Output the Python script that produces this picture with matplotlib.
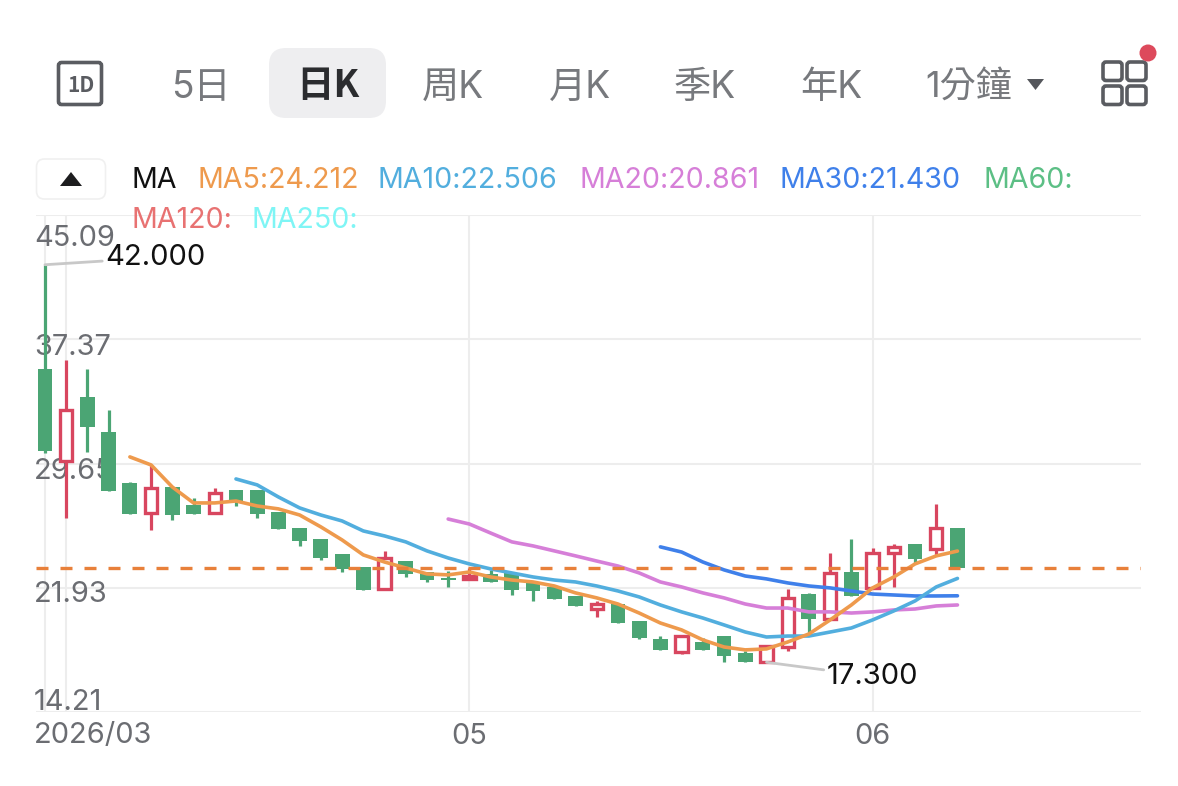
import matplotlib
matplotlib.use('Agg')
import matplotlib.pyplot as plt
from matplotlib.patches import Rectangle, FancyBboxPatch, Polygon, Circle

plt.rcParams['font.family'] = ['Inter', 'Noto Sans CJK TC', 'DejaVu Sans']

# daily candles
opens = [35.52, 29.81, 33.78, 31.61, 28.44, 26.58, 28.19, 27.07, 26.58, 28.00, 28.00,
         26.64, 25.64, 24.96, 24.03, 23.22, 21.85, 23.59, 22.91, 22.51, 22.45, 22.79,
         22.85, 22.23, 21.98, 21.42, 20.61, 20.92, 19.87, 18.75, 17.94, 18.56, 18.93,
         17.88, 17.30, 18.25, 21.54, 20.00, 22.91, 21.92, 24.09, 24.65, 24.34, 25.64]
highs = [42.00, 36.08, 35.52, 32.98, 28.50, 29.56, 28.19, 27.51, 28.13, 28.00, 28.00,
         26.64, 25.64, 24.96, 24.03, 23.22, 24.22, 23.59, 22.91, 22.97, 23.16, 23.04,
         22.85, 22.23, 21.98, 21.42, 21.11, 20.92, 19.87, 18.93, 18.93, 18.81, 18.93,
         18.00, 18.31, 21.85, 21.61, 24.09, 24.96, 24.40, 24.65, 24.65, 27.14, 25.64]
lows = [30.30, 26.27, 30.37, 27.94, 26.51, 25.52, 26.14, 26.51, 26.58, 27.01, 26.27,
        25.58, 24.53, 23.66, 22.91, 21.79, 21.85, 22.60, 22.29, 21.98, 22.45, 22.29,
        21.48, 21.11, 21.23, 20.80, 20.12, 19.74, 18.75, 18.07, 17.82, 18.07, 17.32,
        17.31, 17.30, 18.00, 19.06, 20.00, 21.42, 21.92, 21.98, 23.47, 23.91, 23.15]
closes = [30.43, 32.98, 31.92, 27.94, 26.51, 28.13, 26.45, 26.51, 27.82, 27.32, 26.51,
          25.58, 24.84, 23.78, 23.10, 21.79, 23.78, 22.79, 22.41, 22.41, 22.66, 22.29,
          21.79, 21.73, 21.23, 20.80, 20.92, 19.74, 18.81, 18.07, 18.93, 18.07, 17.69,
          17.31, 18.31, 21.30, 20.00, 22.85, 21.42, 24.09, 24.47, 23.72, 25.64, 23.15]

# moving averages, each one starts once it has enough bars
ma5 = [30.06, 29.56, 28.19, 27.20, 27.20, 27.32, 27.01, 26.83, 26.45, 25.71, 24.90,
       23.97, 23.53, 23.16, 22.79, 22.73, 22.91, 22.60, 22.41, 22.29, 22.04, 21.61,
       21.30, 20.92, 20.36, 19.74, 19.31, 18.69, 18.25, 18.07, 18.13, 18.56, 19.06,
       19.93, 20.86, 21.92, 22.60, 23.41, 23.91, 24.21]
ma10 = [28.69, 28.32, 27.57, 26.89, 26.45, 26.08, 25.46, 25.15, 24.78, 24.22, 23.78,
        23.41, 23.10, 22.85, 22.60, 22.41, 22.29, 22.04, 21.73, 21.36, 20.86, 20.43,
        20.05, 19.62, 19.18, 18.87, 18.93, 18.93, 19.18, 19.43, 19.93, 20.49, 21.11,
        21.98, 22.51]
ma20 = [26.20, 25.89, 25.33, 24.78, 24.53, 24.22, 23.91, 23.59, 23.28, 22.85, 22.29,
        21.98, 21.61, 21.30, 20.92, 20.67, 20.67, 20.43, 20.43, 20.36, 20.43, 20.55,
        20.61, 20.80, 20.86]
ma30 = [24.47, 24.15, 23.53, 23.04, 22.66, 22.48, 22.23, 22.04, 21.92, 21.73, 21.54,
        21.48, 21.42, 21.42, 21.43]

y_ticks = [45.09, 37.37, 29.65, 21.93, 14.21]
y_labels = ['45.09', '37.37', '29.65', '21.93', '14.21']
x_ticks = [1, 20, 39]
x_labels = ['2026/03', '05', '06']
last_price = 23.15

tabs = ['5日', '日K', '周K', '月K', '季K', '年K']
legend_labels = ['MA', 'MA5:24.212', 'MA10:22.506', 'MA20:20.861', 'MA30:21.430', 'MA60:']
legend_labels2 = ['MA120:', 'MA250:']

GREEN = '#4ba574'
RED = '#d8465f'
ORANGE = '#ee9a4d'
SKY = '#52aede'
PINK = '#d67fd8'
BLUE = '#3f80ea'
GRID = '#ededed'
GRAY = '#6b6d72'
BOLD_CJK = ['Noto Sans CJK TC', 'DejaVu Sans']

W, H = 1178, 786
fig = plt.figure(figsize=(W / 100, H / 100), dpi=100, facecolor='white')

# header and legend live on a full size pixel axes
ui = fig.add_axes([0, 0, 1, 1], zorder=2)
ui.set_xlim(0, W)
ui.set_ylim(H, 0)
ui.axis('off')

ui.add_patch(FancyBboxPatch((58.5, 62.5), 43, 42, boxstyle='round,pad=0,rounding_size=3',
                            fc='white', ec='#5a5c61', lw=2.6))
ui.text(80.5, 85, '1D', fontsize=15, fontweight='bold', family=BOLD_CJK, color='#5a5c61',
        ha='center', va='center')

ui.add_patch(FancyBboxPatch((269, 48), 117, 70, boxstyle='round,pad=0,rounding_size=17',
                            fc='#eeeef0', ec='none'))
tab_x = [201, 328, 453, 580, 705, 831]
for x, t in zip(tab_x, tabs):
    if t == '日K':
        ui.text(x, 85, t, fontsize=27, ha='center', va='center', color='#2b2c2f',
                fontweight='bold', family=BOLD_CJK)
    else:
        ui.text(x, 88, t, fontsize=26.8, ha='center', va='center', color='#77797d')
ui.text(925, 88, '1分鐘', fontsize=26, ha='left', va='center', color='#77797d')
ui.add_patch(Polygon([[1027, 79], [1044, 79], [1035.5, 90]], fc='#55575c', ec='none'))

# layout icon with the red dot
for x in [1103, 1127]:
    for y in [62, 86]:
        ui.add_patch(FancyBboxPatch((x, y), 19, 18.5, boxstyle='round,pad=0,rounding_size=3',
                                    fc='white', ec='#5a5c61', lw=2.6))
ui.add_patch(Circle((1148, 53), 8.5, fc='#dd4a5c', ec='none', zorder=5))

# collapse button
ui.add_patch(FancyBboxPatch((36.5, 159), 69, 40, boxstyle='round,pad=0,rounding_size=8',
                            fc='white', ec='#f0f0f0', lw=1.2))
ui.add_patch(Polygon([[60, 186], [82, 186], [71, 172]], fc='#1d1d1f', ec='none'))

legend_x = [132, 198, 378, 580, 780, 983]
legend_colors = ['#111111', ORANGE, SKY, PINK, BLUE, '#5cbf85']
for x, t, c in zip(legend_x, legend_labels, legend_colors):
    ui.text(x, 180, t, fontsize=20.6, color=c, ha='left', va='center')
for x, t, c in zip([131, 251], legend_labels2, ['#e87272', '#7ff5f5']):
    ui.text(x, 220, t, fontsize=20.6, color=c, ha='left', va='center', zorder=6)

# price chart
x0, x1, y0, y1 = 36, 1141, 215, 712
ax = fig.add_axes([x0 / W, 1 - y1 / H, (x1 - x0) / W, (y1 - y0) / H], zorder=1)
ax.patch.set_alpha(0)
step = 21.22
ax.set_xlim((x0 - 45) / step, (x1 - 45) / step)
ax.set_ylim(y_ticks[-1], y_ticks[0])
for s in ax.spines.values():
    s.set_visible(False)
ax.tick_params(length=0, labelleft=False, labelbottom=False)
ax.set_yticks(y_ticks)
ax.set_xticks([0] + x_ticks)
ax.grid(True, color=GRID, lw=1.5, zorder=0)
ax.set_axisbelow(True)

body_w = 0.7
for i in range(len(opens)):
    o, h, l, c = opens[i], highs[i], lows[i], closes[i]
    top, bot = max(o, c), min(o, c)
    if c >= o:
        ax.vlines(i, top, h, color=RED, lw=2.3, zorder=3)
        ax.vlines(i, l, bot, color=RED, lw=2.3, zorder=3)
        ax.add_patch(Rectangle((i - 0.29, bot), 0.58, top - bot, fc='white', ec=RED, lw=2.4, zorder=3))
    else:
        ax.vlines(i, l, h, color=GREEN, lw=2.3, zorder=3)
        ax.add_patch(Rectangle((i - body_w / 2, bot), body_w, top - bot, fc=GREEN, ec='none', zorder=3))

n = len(closes)
for vals, col in [(ma30, BLUE), (ma20, PINK), (ma10, SKY), (ma5, ORANGE)]:
    ax.plot(range(n - len(vals), n), vals, color=col, lw=2.6, zorder=4,
            solid_capstyle='round', solid_joinstyle='round')

ax.axhline(last_price, color='#e8803a', lw=2.4, dashes=(3.6, 3.6), zorder=4)

# y labels sit on the left edge, nudged off their grid lines
label_off = [-24, -8, -8, -7, 10]
for v, t, off in zip(y_ticks, y_labels, label_off):
    ax.annotate(t, xy=(0, v), xycoords=ax.get_yaxis_transform(), xytext=(-2, off),
                textcoords='offset pixels', fontsize=20.9, color=GRAY, ha='left', va='center', zorder=2)

ax.annotate(x_labels[0], xy=(0, 0), xycoords='axes fraction', xytext=(-2, -24),
            textcoords='offset pixels', fontsize=20.9, color=GRAY, ha='left', va='center')
for x, t in zip(x_ticks[1:], x_labels[1:]):
    ax.annotate(t, xy=(x, 0), xycoords=ax.get_xaxis_transform(), xytext=(0, -24),
                textcoords='offset pixels', fontsize=20.9, color=GRAY, ha='center', va='center')

# high / low callouts
ax.annotate('42.000', xy=(0, max(highs)), xytext=(60, 7), textcoords='offset pixels',
            fontsize=21, color='#111111', ha='left', va='center', zorder=6,
            arrowprops=dict(arrowstyle='-', color='#c8c8c8', lw=2, shrinkA=0, shrinkB=0))
ax.annotate('17.300', xy=(34, min(lows)), xytext=(60, -14), textcoords='offset pixels',
            fontsize=21, color='#111111', ha='left', va='center', zorder=6,
            arrowprops=dict(arrowstyle='-', color='#c8c8c8', lw=2, shrinkA=0, shrinkB=0))

fig.savefig('out.png', dpi=100)
